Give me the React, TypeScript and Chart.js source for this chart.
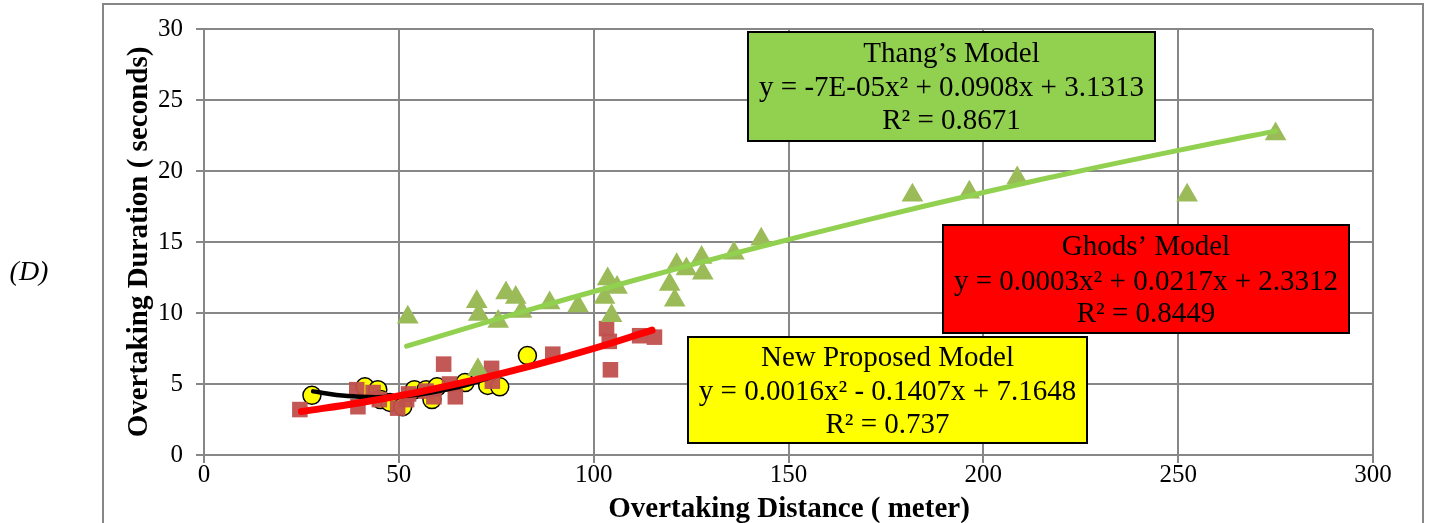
import { useEffect, useRef } from "react";
import { Chart, registerables } from "chart.js";

Chart.register(...registerables);

// ---------- Data ----------
// New proposed model observations (yellow circles)
const newX = [27.7, 41.3, 44.6, 45.3, 47.7, 51.0, 54.0, 57.0, 58.5, 59.8, 67.0, 72.8, 75.9, 83.0];
const newY = [4.2, 4.8, 4.6, 3.9, 3.7, 3.4, 4.6, 4.6, 3.9, 4.8, 5.1, 4.9, 4.8, 7.0];

// Ghods' model observations (red squares)
const ghodsX = [24.6, 39.2, 39.5, 43.4, 45.0, 49.7, 52.0, 52.5, 57.0, 59.0, 61.5, 63.0, 64.5, 73.8, 74.0, 89.5, 103.3, 104.0, 104.3, 111.8, 115.6];
const ghodsY = [3.2, 4.6, 3.4, 4.4, 3.9, 3.3, 3.9, 4.3, 4.5, 4.1, 6.4, 5.0, 4.1, 6.1, 5.2, 7.1, 8.9, 8.0, 6.0, 8.4, 8.3];

// Thang's model observations (green triangles)
const thangX = [52.3, 70.0, 70.5, 75.5, 77.5, 80.0, 81.5, 88.7, 96.0, 102.8, 103.6, 106.0, 104.6, 119.5, 120.8, 121.3, 123.8, 127.7, 128.0, 136.0, 143.0, 181.8, 196.4, 208.7, 252.3, 275.0, 70.3];
const thangY = [9.7, 10.8, 9.9, 9.4, 11.4, 11.1, 10.1, 10.7, 10.5, 11.1, 12.4, 11.8, 9.8, 12.0, 10.9, 13.4, 13.1, 13.9, 12.8, 14.2, 15.2, 18.3, 18.5, 19.5, 18.3, 22.6, 6.0];

// Trendlines (points on the fitted curves shown in the chart)
const thangTrendX = [52, 80, 110, 140, 170, 200, 230, 260, 275];
const thangTrendY = [7.66, 9.95, 12.27, 14.47, 16.54, 18.49, 20.31, 22.01, 22.81];
const ghodsTrendX = [25, 40, 55, 70, 85, 100, 115];
const ghodsTrendY = [3.06, 3.68, 4.43, 5.32, 6.34, 7.50, 8.79];
const newTrendX = [28, 34, 40, 46, 52, 58, 64, 70, 76];
const newTrendY = [4.48, 4.23, 4.10, 4.08, 4.17, 4.39, 4.71, 5.16, 5.71];

// Axis ticks
const xTicks = [0, 50, 100, 150, 200, 250, 300];
const yTicks = [0, 5, 10, 15, 20, 25, 30];

// Annotation texts
const thangLines = ["Thang\u2019s Model", "y = -7E-05x\u00B2 + 0.0908x + 3.1313", "R\u00B2 = 0.8671"];
const ghodsLines = ["Ghods\u2019 Model", "y = 0.0003x\u00B2 + 0.0217x + 2.3312", "R\u00B2 = 0.8449"];
const newLines = ["New Proposed Model", "y = 0.0016x\u00B2 - 0.1407x + 7.1648", "R\u00B2 = 0.737"];

const xTitle = "Overtaking Distance ( meter)";
const yTitle = "Overtaking Duration ( seconds)";
const panelLabel = "(D)";

const SERIF = "'Liberation Serif', 'Times New Roman', serif";
const GRID = "#878787";

const zip = (xs: number[], ys: number[]) => xs.map((x, i) => ({ x, y: ys[i] }));

const decorPlugin = {
  id: "decor",
  beforeDraw(chart: any) {
    const ctx = chart.ctx;
    ctx.save();
    ctx.fillStyle = "#ffffff";
    ctx.fillRect(0, 0, chart.width, chart.height);
    ctx.strokeStyle = GRID;
    ctx.lineWidth = 2;
    ctx.strokeRect(103, 4, 1320, 540);
    ctx.restore();
  },
  afterDraw(chart: any) {
    const ctx = chart.ctx;
    ctx.save();
    // Panel label
    ctx.fillStyle = "#000";
    ctx.font = `italic 28px ${SERIF}`;
    ctx.textAlign = "center";
    ctx.textBaseline = "middle";
    ctx.fillText(panelLabel, 29, 273);

    // Axis titles
    ctx.font = `bold 29px ${SERIF}`;
    ctx.fillText(xTitle, 789, 510);
    ctx.save();
    ctx.translate(140, 242);
    ctx.rotate(-Math.PI / 2);
    ctx.fillText(yTitle, 0, 0);
    ctx.restore();

    const box = (x: number, y: number, w: number, h: number, fill: string, lines: string[], offs: number[]) => {
      ctx.fillStyle = fill;
      ctx.fillRect(x, y, w, h);
      ctx.strokeStyle = "#000";
      ctx.lineWidth = 2;
      ctx.strokeRect(x, y, w, h);
      ctx.fillStyle = "#000";
      ctx.font = `29px ${SERIF}`;
      ctx.textAlign = "center";
      ctx.textBaseline = "middle";
      lines.forEach((t, i) => ctx.fillText(t, x + w / 2, y + offs[i]));
    };
    box(748, 32, 407, 109, "#92D050", thangLines, [22, 56, 89]);
    box(943, 225, 406, 108, "#FF0000", ghodsLines, [22, 57, 89]);
    box(688, 337, 399, 106, "#FFFF00", newLines, [21, 55, 88]);
    ctx.restore();
  },
};

export default function App() {
  const canvasRef = useRef<HTMLCanvasElement | null>(null);

  useEffect(() => {
    const canvas = canvasRef.current;
    if (!canvas) return;
    const chart = new Chart(canvas, {
      type: "scatter",
      data: {
        datasets: [
          {
            label: "Ghods trend",
            data: zip(ghodsTrendX, ghodsTrendY),
            showLine: true,
            borderColor: "#FF0000",
            borderWidth: 7,
            pointRadius: 0,
            tension: 0.4,
            borderCapStyle: "round",
            order: 0,
          },
          {
            label: "New trend",
            data: zip(newTrendX, newTrendY),
            showLine: true,
            borderColor: "#000000",
            borderWidth: 4.5,
            pointRadius: 0,
            tension: 0.4,
            borderCapStyle: "round",
            order: 1,
          },
          {
            label: "Thang trend",
            data: zip(thangTrendX, thangTrendY),
            showLine: true,
            borderColor: "#92D050",
            borderWidth: 5,
            pointRadius: 0,
            tension: 0.4,
            borderCapStyle: "round",
            order: 2,
          },
          {
            label: "Thang",
            data: zip(thangX, thangY),
            pointStyle: "triangle",
            pointRadius: 12.5,
            backgroundColor: "#9BBB59",
            borderWidth: 0,
            order: 3,
          },
          {
            label: "Ghods",
            data: zip(ghodsX, ghodsY),
            pointStyle: "rect",
            pointRadius: 11,
            backgroundColor: "rgba(192,80,77,0.95)",
            borderWidth: 0,
            order: 4,
          },
          {
            label: "New",
            data: zip(newX, newY),
            pointStyle: "circle",
            pointRadius: 9,
            backgroundColor: "#FFFF00",
            borderColor: "#000000",
            borderWidth: 1.5,
            order: 5,
          },
        ],
      },
      options: {
        responsive: false,
        maintainAspectRatio: false,
        devicePixelRatio: 1,
        animation: false,
        layout: { padding: { top: 29, right: 58, left: 0, bottom: 0 } },
        plugins: {
          legend: { display: false },
          tooltip: { enabled: false },
        },
        scales: {
          x: {
            type: "linear",
            min: 0,
            max: 300,
            afterBuildTicks: (s: any) => {
              s.ticks = xTicks.map((v) => ({ value: v }));
            },
            afterFit: (s: any) => {
              s.height = 68;
            },
            ticks: {
              font: { family: SERIF, size: 25 },
              color: "#000",
              padding: -3,
              maxRotation: 0,
            },
            grid: { color: GRID, lineWidth: 2, tickLength: 8, drawTicks: true },
            border: { display: true, color: GRID, width: 2 },
          },
          y: {
            type: "linear",
            min: 0,
            max: 30,
            afterBuildTicks: (s: any) => {
              s.ticks = yTicks.map((v) => ({ value: v }));
            },
            afterFit: (s: any) => {
              s.width = 204;
            },
            ticks: {
              font: { family: SERIF, size: 25 },
              color: "#000",
              padding: 13,
            },
            grid: { color: GRID, lineWidth: 2, tickLength: 8, drawTicks: true },
            border: { display: true, color: GRID, width: 2 },
          },
        },
      },
      plugins: [decorPlugin],
    } as any);
    return () => chart.destroy();
  }, []);

  return (
    <div style={{ position: "fixed", left: 0, top: 0, width: 1431, height: 523, background: "#fff" }}>
      <canvas ref={canvasRef} width={1431} height={523} style={{ display: "block", width: 1431, height: 523 }} />
    </div>
  );
}
